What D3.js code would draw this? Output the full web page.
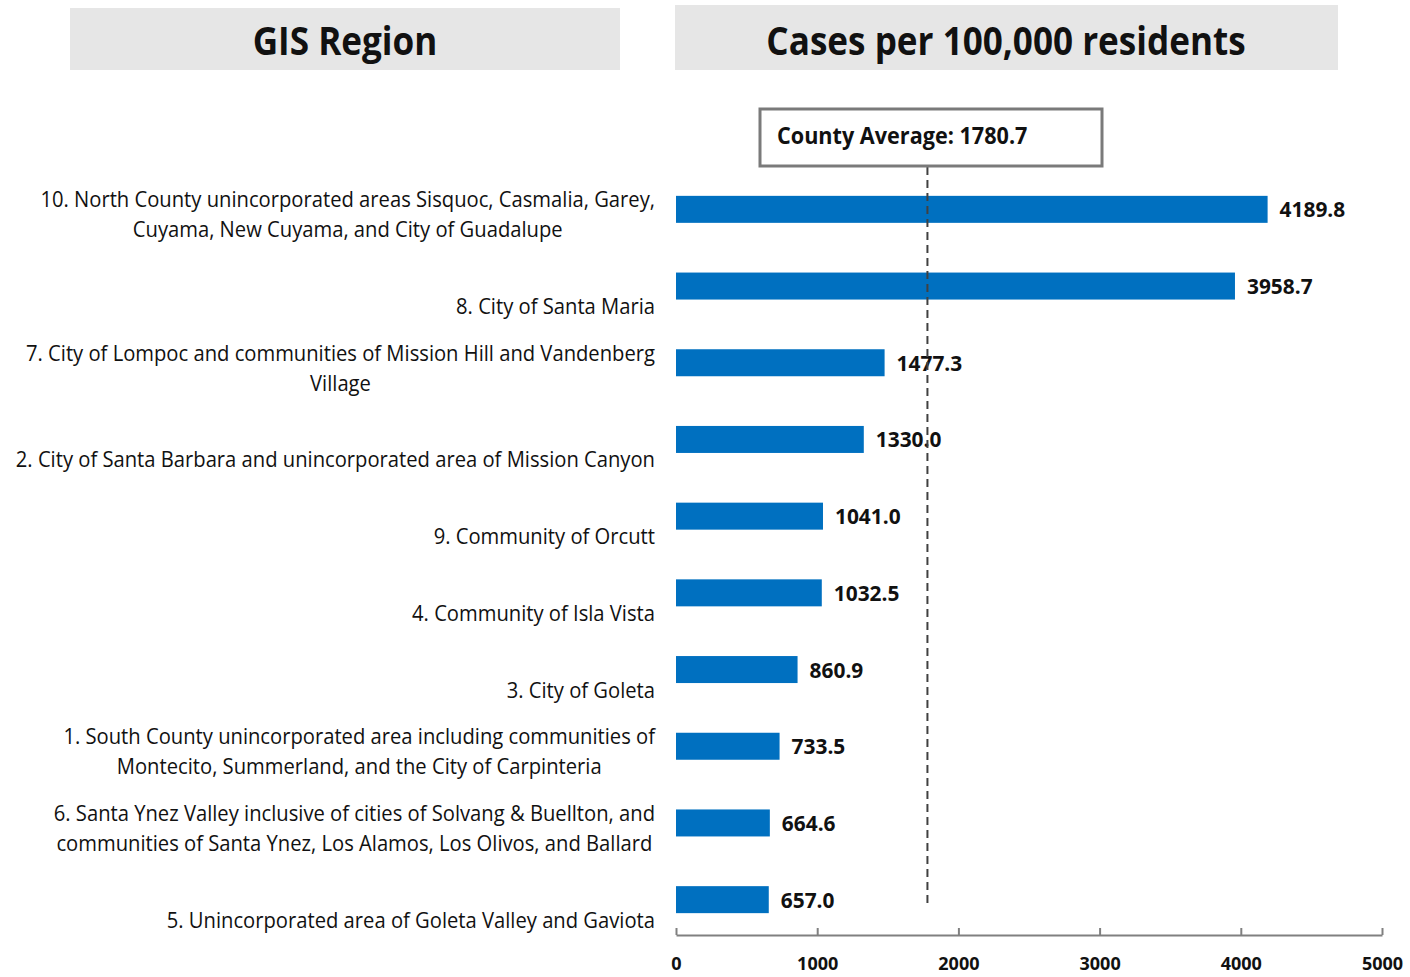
<!DOCTYPE html>
<html>
<head>
<meta charset="utf-8">
<script src="https://cdn.jsdelivr.net/npm/d3@7"></script>
<style>
  body { margin: 0; background: #fff; }
  svg { display: block; font-family: "Open Sans", sans-serif; }
</style>
</head>
<body>
<div id="chart"></div>
<script>
const regions = [
  ['10. North County unincorporated areas Sisquoc, Casmalia, Garey,', 'Cuyama, New Cuyama, and City of Guadalupe'],
  ['8. City of Santa Maria'],
  ['7. City of Lompoc and communities of Mission Hill and Vandenberg', 'Village'],
  ['2. City of Santa Barbara and unincorporated area of Mission Canyon'],
  ['9. Community of Orcutt'],
  ['4. Community of Isla Vista'],
  ['3. City of Goleta'],
  ['1. South County unincorporated area including communities of', 'Montecito, Summerland, and the City of Carpinteria'],
  ['6. Santa Ynez Valley inclusive of cities of Solvang & Buellton, and', 'communities of Santa Ynez, Los Alamos, Los Olivos, and Ballard'],
  ['5. Unincorporated area of Goleta Valley and Gaviota']
];
const rates = [4189.8, 3958.7, 1477.3, 1330.0, 1041.0, 1032.5, 860.9, 733.5, 664.6, 657.0];
const xTicks = [0, 1000, 2000, 3000, 4000, 5000];
const countyAverage = 1780.7;

const W = 1410, H = 977;
const svg = d3.select('#chart').append('svg')
  .attr('width', W).attr('height', H);

const x = d3.scaleLinear().domain([0, 5000]).range([676, 1382]);
const y = d3.scaleBand().domain(d3.range(rates.length)).range([171, 938]).paddingInner(0.648).paddingOuter(0.324);

// Open Sans is wider than the original's condensed face, so squeeze horizontally
function narrowText(px, py, sx, anchor) {
  return svg.append('g')
    .attr('transform', `translate(${px},${py}) scale(${sx},1)`)
    .append('text').attr('text-anchor', anchor).attr('fill', '#111');
}

// header boxes
svg.append('rect').attr('x', 70).attr('y', 8).attr('width', 550).attr('height', 62).attr('fill', '#e6e6e6');
narrowText(345, 55, 0.9, 'middle')
  .attr('font-size', 39).attr('font-weight', 'bold').text('GIS Region');
svg.append('rect').attr('x', 675).attr('y', 5).attr('width', 663).attr('height', 65).attr('fill', '#e6e6e6');
narrowText(1006, 55, 0.9, 'middle')
  .attr('font-size', 39).attr('font-weight', 'bold').text('Cases per 100,000 residents');

// bars
svg.selectAll('rect.bar').data(rates).enter().append('rect')
  .attr('class', 'bar')
  .attr('x', x(0))
  .attr('y', (d, i) => y(i))
  .attr('width', d => x(d) - x(0))
  .attr('height', y.bandwidth())
  .attr('fill', '#0070c0');

// value labels
rates.forEach((d, i) => {
  narrowText(x(d) + 12, y(i) + y.bandwidth() / 2 + 8, 0.95, 'start')
    .attr('font-size', 22).attr('font-weight', 'bold')
    .text(d.toFixed(1));
});

// category labels: lines centred on each other, block right-aligned at 655
const labelScale = 0.962;
regions.forEach((lines, i) => {
  const cy = y(i) + y.bandwidth() / 2;
  const g = svg.append('g').attr('transform', `translate(655,0) scale(${labelScale},1)`);
  const texts = lines.map((t, j) => g.append('text')
    .attr('y', cy + 28 - (lines.length - 1 - j) * 30)
    .attr('font-size', 21).attr('fill', '#111')
    .attr('text-anchor', 'middle')
    .text(t));
  const maxW = d3.max(texts, t => t.node().getComputedTextLength());
  texts.forEach(t => t.attr('x', -maxW / 2));
});

// county average line and callout
svg.append('line')
  .attr('x1', x(countyAverage)).attr('x2', x(countyAverage))
  .attr('y1', 167).attr('y2', 908)
  .attr('stroke', '#404040').attr('stroke-width', 2).attr('stroke-dasharray', '8,5');
svg.append('rect').attr('x', 760).attr('y', 109).attr('width', 342).attr('height', 57)
  .attr('fill', '#fff').attr('stroke', '#7a7a7a').attr('stroke-width', 3);
narrowText(777, 144, 0.94, 'start')
  .attr('font-size', 23).attr('font-weight', 'bold')
  .text('County Average: ' + countyAverage);

// x axis
const axis = svg.append('g').attr('transform', 'translate(0,935)')
  .call(d3.axisBottom(x).tickValues(xTicks).tickFormat(d3.format('d'))
    .tickSizeInner(-7).tickSizeOuter(0).tickPadding(22));
axis.select('.domain').attr('stroke', '#808080').attr('stroke-width', 2);
axis.selectAll('.tick line').attr('stroke', '#808080').attr('stroke-width', 2);
axis.selectAll('.tick text')
  .attr('font-size', 18).attr('font-weight', 'bold').attr('fill', '#111')
  .attr('font-family', '"Open Sans", sans-serif');
</script>
</body>
</html>
